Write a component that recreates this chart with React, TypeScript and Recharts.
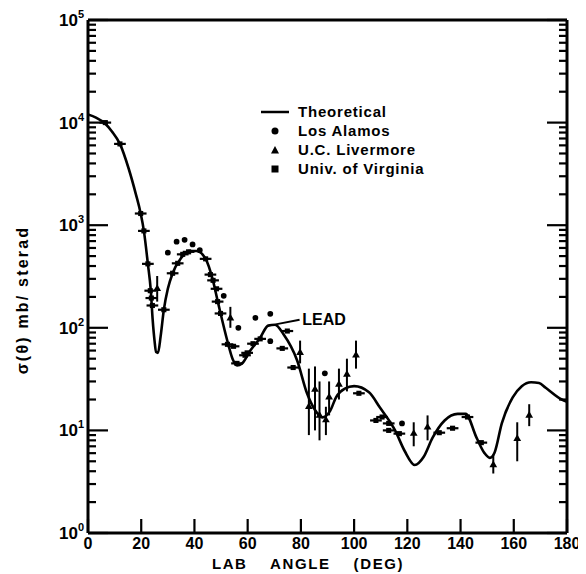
import React from 'react';
import { ComposedChart, Line, Scatter, XAxis, YAxis, ZAxis, ErrorBar, Legend, ReferenceLine, ReferenceDot } from 'recharts';

// Theoretical curve (angle in deg, cross section in mb/sterad)
const theoryAngle = [0, 3, 6.4, 9, 12, 15.3, 18, 19.8, 21, 22.5, 23.6, 24.3, 25, 25.6, 26.3, 27.3, 28.5, 30, 31.8, 34.8, 37.8, 40.8, 44.2, 46.8, 49, 52.4, 54.3, 56, 57.9, 61, 64.7, 67.7, 70.3, 73.4, 78.6, 82.3, 85.3, 88, 91, 93.2, 96.5, 100, 105.6, 109.7, 115.4, 119, 122.8, 126.1, 129.5, 134, 138.9, 141.9, 146, 149, 151, 152.8, 155.5, 159.6, 163, 166.5, 169.5, 172, 178, 180];
const theoryValue = [12000, 11200, 9800, 8200, 6200, 3550, 2000, 1300, 880, 420, 230, 120, 75, 58, 57, 83, 150, 240, 340, 470, 560, 560, 470, 300, 170, 74, 50, 43, 45, 60, 80, 105, 107, 87, 48, 23, 15.8, 13.4, 15.5, 21, 25.5, 27, 23.5, 16.7, 10, 6.3, 4.6, 5.5, 8.5, 12.5, 14.5, 14.5, 8.5, 6, 5.4, 6.1, 11.7, 21, 27, 29.5, 29, 26, 20, 19];

// Los Alamos
const losAlamosAngle = [30, 33.3, 36.3, 39.3, 42, 51, 56.5, 62.9, 68.5, 68.5, 89, 118];
const losAlamosValue = [540, 690, 720, 650, 570, 205, 100, 125, 137, 74, 36, 11.7];

// U.C. Livermore (with vertical error bars)
const livermoreAngle = [26, 53.5, 79.7, 83, 85.3, 87, 89.4, 90.6, 94.3, 97.3, 100.7, 122.4, 127.6, 152.3, 161.3, 165.8];
const livermoreValue = [240, 124, 57, 17, 25, 14, 12.6, 21, 28, 35, 54, 9.3, 10.7, 4.6, 8.3, 14];
const livermoreLow = [180, 100, 45, 9, 10, 8, 9, 14, 20, 24, 40, 7, 8, 3.8, 5, 11];
const livermoreHigh = [320, 160, 75, 40, 42, 30, 17, 30, 40, 50, 75, 12, 14, 5.8, 12, 18];

// Univ. of Virginia (with angular resolution bars)
const virginiaAngle = [6.5, 12, 19.8, 21, 22.5, 23.4, 23.8, 24.2, 28.5, 31.8, 33.7, 35.6, 37.8, 44.2, 46, 47, 48.3, 48.7, 49.8, 52.4, 54.7, 56, 59, 59.8, 62, 64.7, 73, 74.9, 77.1, 101.8, 108.2, 110.5, 113, 113, 117, 132, 137, 142.6, 147.8];
const virginiaValue = [10000, 6200, 1300, 880, 420, 230, 195, 165, 150, 340, 425, 520, 550, 470, 330, 290, 240, 180, 138, 69, 66, 45, 54, 57, 70, 78, 63, 93, 41, 23, 12.5, 13.5, 11.7, 10, 9.3, 9.5, 10.5, 13.5, 7.6];
const angleHalfWidth = 2.2;

// LEAD annotation anchor
const leadLine = [{ x: 70.5, y: 108 }, { x: 79.5, y: 120 }];
const leadLabel = { x: 79.8, y: 120, text: 'LEAD' };

const xTicks = [0, 20, 40, 60, 80, 100, 120, 140, 160, 180];
const majorY = [1, 10, 100, 1000, 10000, 100000];
const yTicks: number[] = [];
majorY.forEach((m, i) => {
  yTicks.push(m);
  if (i < majorY.length - 1) for (let k = 2; k <= 9; k++) yTicks.push(m * k);
});

const legendItems = ['Theoretical', 'Los Alamos', 'U.C. Livermore', 'Univ. of Virginia'];

const theory = theoryAngle.map((x, i) => ({ x, y: theoryValue[i] }));
const losAlamos = losAlamosAngle.map((x, i) => ({ x, y: losAlamosValue[i] }));
const livermore = livermoreAngle.map((x, i) => ({
  x,
  y: livermoreValue[i],
  ey: [livermoreValue[i] - livermoreLow[i], livermoreHigh[i] - livermoreValue[i]],
}));
const virginia = virginiaAngle.map((x, i) => ({ x, y: virginiaValue[i], ex: angleHalfWidth }));

const FONT = '"Liberation Sans", Arial, sans-serif';

const LeftTick = (props: any) => {
  const { x, y, payload } = props;
  const v = payload.value;
  const major = majorY.includes(v);
  const exp = Math.round(Math.log10(v));
  return (
    <g>
      <line x1={x} x2={x + (major ? 20 : 8)} y1={y} y2={y} stroke="#000" strokeWidth={2.2} />
      {major && (
        <text x={x - 4} y={y + 6} textAnchor="end" fontFamily={FONT} fontWeight="bold" fontSize={17} fill="#000">
          <tspan>10</tspan>
          <tspan dy={-8} fontSize={11}>{String(exp)}</tspan>
        </text>
      )}
    </g>
  );
};

const RightTick = (props: any) => {
  const { x, y, payload } = props;
  const major = majorY.includes(payload.value);
  return <line x1={x} x2={x - (major ? 20 : 8)} y1={y} y2={y} stroke="#000" strokeWidth={2.2} />;
};

const BottomTick = (props: any) => {
  const { x, y, payload } = props;
  return (
    <g>
      <line x1={x} x2={x} y1={y} y2={y - 14} stroke="#000" strokeWidth={2.2} />
      <text x={x} y={y + 16} textAnchor="middle" fontFamily={FONT} fontWeight="bold" fontSize={16} fill="#000">
        {payload.value}
      </text>
    </g>
  );
};

const TopTick = (props: any) => {
  const { x, y } = props;
  return <line x1={x} x2={x} y1={y} y2={y + 12} stroke="#000" strokeWidth={2.2} />;
};

const LegendContent = () => (
  <div style={{ fontFamily: FONT, fontWeight: 'bold', fontSize: 15, color: '#000', letterSpacing: 0.8 }}>
    {legendItems.map((name, i) => (
      <div key={name} style={{ display: 'flex', alignItems: 'center', height: 19 }}>
        <svg width={36} height={19} style={{ flex: 'none' }}>
          {i === 0 && <line x1={2} x2={30} y1={10} y2={10} stroke="#000" strokeWidth={2.5} />}
          {i === 1 && <circle cx={16} cy={10} r={3.5} fill="#000" />}
          {i === 2 && <polygon points="16,6 20,13.5 12,13.5" fill="#000" />}
          {i === 3 && <rect x={12.5} y={6.5} width={7} height={7} fill="#000" />}
        </svg>
        <span style={{ marginLeft: 3, whiteSpace: 'nowrap' }}>{name}</span>
      </div>
    ))}
  </div>
);

const YTitle = () => (
  <text x={20} y={292} transform="rotate(-90 20 292)" textAnchor="middle" fontFamily={FONT} fontWeight="bold" fontSize={16} fill="#000" letterSpacing={2.2}>
    σ(θ) mb/ sterad
  </text>
);

const XTitle = () => (
  <text x={300} y={561} textAnchor="middle" fontFamily={FONT} fontWeight="bold" fontSize={15} fill="#000" letterSpacing={1.6} xmlSpace="preserve">
    LAB    ANGLE    (DEG)
  </text>
);

export default function App() {
  return (
    <div style={{ width: 575, height: 566, position: 'relative' }}>
      <ComposedChart width={575} height={566} margin={{ top: 11, right: 0, bottom: 0, left: 0 }}>
        <XAxis
          xAxisId="b"
          dataKey="x"
          type="number"
          domain={[0, 180]}
          ticks={xTicks}
          interval={0}
          height={41}
          tickSize={0}
          tickMargin={0}
          tickLine={false}
          axisLine={{ stroke: '#000', strokeWidth: 3 }}
          tick={<BottomTick />}
          allowDataOverflow
          label={{ content: () => <XTitle /> }}
        />
        <XAxis
          xAxisId="t"
          orientation="top"
          type="number"
          domain={[0, 180]}
          ticks={xTicks}
          interval={0}
          height={1}
          tickSize={0}
          tickMargin={0}
          tickLine={false}
          axisLine={{ stroke: '#000', strokeWidth: 3 }}
          tick={<TopTick />}
          allowDataOverflow
        />
        <YAxis
          yAxisId="l"
          dataKey="y"
          scale="log"
          type="number"
          domain={[1, 100000]}
          ticks={yTicks}
          interval={0}
          width={80}
          tickSize={0}
          tickMargin={0}
          tickLine={false}
          axisLine={{ stroke: '#000', strokeWidth: 3 }}
          tick={<LeftTick />}
          allowDataOverflow
          label={{ content: () => <YTitle /> }}
        />
        <YAxis
          yAxisId="r"
          orientation="right"
          scale="log"
          type="number"
          domain={[1, 100000]}
          ticks={yTicks}
          interval={0}
          width={16}
          tickSize={0}
          tickMargin={0}
          tickLine={false}
          axisLine={{ stroke: '#000', strokeWidth: 3 }}
          tick={<RightTick />}
          allowDataOverflow
        />
        <ZAxis range={[26, 26]} />
        <Legend
          layout="vertical"
          align="center"
          verticalAlign="middle"
          content={<LegendContent />}
          wrapperStyle={{ position: 'absolute', left: 251, top: 94, width: 220, height: 80 }}
        />
        <Line
          xAxisId="b"
          yAxisId="l"
          data={theory}
          dataKey="y"
          type="monotone"
          stroke="#000"
          strokeWidth={2.6}
          dot={false}
          isAnimationActive={false}
          name="Theoretical"
        />
        <Scatter xAxisId="b" yAxisId="l" data={virginia} dataKey="y" shape="square" fill="#000" name="Univ. of Virginia" isAnimationActive={false}>
          <ErrorBar dataKey="ex" direction="x" width={0} stroke="#000" strokeWidth={2.2} />
        </Scatter>
        <Scatter xAxisId="b" yAxisId="l" data={livermore} dataKey="y" shape="triangle" fill="#000" name="U.C. Livermore" isAnimationActive={false}>
          <ErrorBar dataKey="ey" direction="y" width={0} stroke="#000" strokeWidth={2} />
        </Scatter>
        <Scatter xAxisId="b" yAxisId="l" data={losAlamos} dataKey="y" shape="circle" fill="#000" name="Los Alamos" isAnimationActive={false} />
        <ReferenceLine xAxisId="b" yAxisId="l" segment={leadLine} stroke="#000" strokeWidth={2} />
        <ReferenceDot
          xAxisId="b"
          yAxisId="l"
          x={leadLabel.x}
          y={leadLabel.y}
          r={0}
          stroke="none"
          fill="none"
          label={{ value: leadLabel.text, position: 'right', offset: 2, fontFamily: FONT, fontWeight: 'bold', fontSize: 16, fill: '#000' }}
        />
      </ComposedChart>
    </div>
  );
}
